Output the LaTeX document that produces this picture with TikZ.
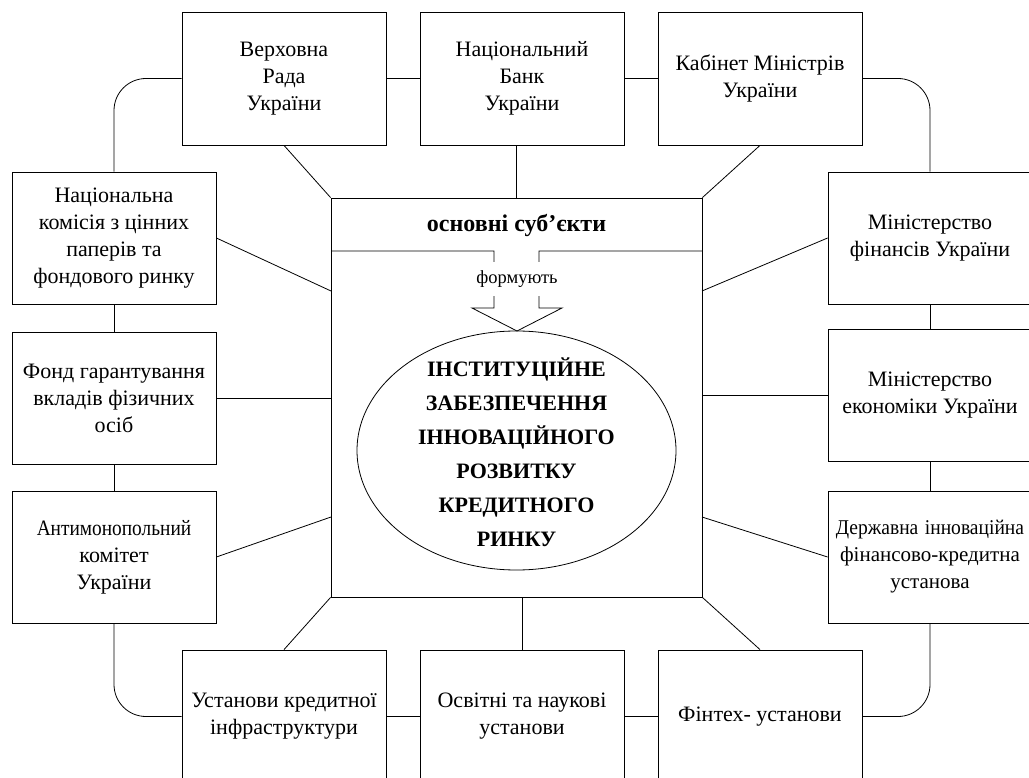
\documentclass[tikz,border=0pt]{standalone}
\usepackage{fontspec}
\usepackage{graphicx}
\setmainfont{Liberation Serif}
\usetikzlibrary{shapes.geometric}
\begin{document}
\begin{tikzpicture}[x=1pt,y=-1pt,line width=0.8pt,
  box/.style={draw,minimum width=204pt,minimum height=133pt,align=center,inner sep=0pt,font=\fontsize{22}{27}\selectfont},
  conn/.style={draw,line width=0.8pt},
  round/.style={conn,rounded corners=32pt},
  bigtext/.style={align=center,font=\fontsize{22}{34}\bfseries\selectfont}]
\useasboundingbox (0,0) rectangle (1029,778);
% top row
\node[box] (vr) at (284,78.5) {Верховна\\Рада\\України};
\node[box] (nb) at (522,78.5) {Національний\\Банк\\України};
\node[box] (km) at (760,78.5) {Кабінет Міністрів\\України};
% left column
\node[box,minimum height=132pt] (nk) at (114,238) {Національна\\комісія з цінних\\паперів та\\фондового ринку};
\node[box,minimum height=132pt] (fg) at (114,398) {Фонд гарантування\\вкладів фізичних\\осіб};
\node[box,minimum height=132pt] (am) at (114,557) {\scalebox{0.88}[1]{Антимонопольний}\\комітет\\України};
% right column
\node[box,minimum height=132pt] (mf) at (930,238) {Міністерство\\фінансів України};
\node[box,minimum height=132pt] (me) at (930,395) {Міністерство\\економіки України};
\node[box,minimum height=132pt,text width=204pt,font=\fontsize{21}{27}\selectfont] (dz) at (930,557) {\scalebox{0.93}[1]{Державна інноваційна}\\фінансово-кредитна\\установа};
% bottom row
\node[box] (uk) at (284,716.5) {Установи кредитної\\інфраструктури};
\node[box] (os) at (522,716.5) {Освітні та наукові\\установи};
\node[box] (ft) at (760,716.5) {Фінтех- установи};
% central box
\node[draw,minimum width=371pt,minimum height=399pt,inner sep=0pt] (cb) at (516.5,397.5) {};
\node[font=\fontsize{24}{28}\bfseries\selectfont] (hd) at (516.5,226) {основні суб’єкти};
\coordinate (sepL) at (331,251);
\coordinate (sepR) at (702,251);
\coordinate (a1) at (494,251);
\coordinate (a2) at (494,308);
\coordinate (a3) at (472,308);
\coordinate (tip) at (517,331);
\coordinate (a5) at (562,308);
\coordinate (a6) at (539,308);
\coordinate (a7) at (539,251);
\draw (sepL) -- (a1) -- (a2) -- (a3) -- (tip) -- (a5) -- (a6) -- (a7) -- (sepR);
\node[fill=white,inner sep=0pt,minimum height=34pt,font=\fontsize{18.5}{22}\selectfont] (fm) at (517,279) {формують};
% ellipse
\node[draw,ellipse,minimum width=319pt,minimum height=239pt,inner sep=0pt] (el) at (516.5,450.5) {};
\node[bigtext] (et) at (516.5,452) {ІНСТИТУЦІЙНЕ\\ЗАБЕЗПЕЧЕННЯ\\ІННОВАЦІЙНОГО\\РОЗВИТКУ\\КРЕДИТНОГО\\РИНКУ};
% ring connectors
\draw[conn] (vr.east) -- (nb.west);
\draw[conn] (nb.east) -- (km.west);
\draw[round] (vr.west) -| (nk.north);
\draw[round] (km.east) -| (mf.north);
\draw[conn] (nk.south) -- (fg.north);
\draw[conn] (fg.south) -- (am.north);
\draw[round] (am.south) |- (uk.west);
\draw[conn] (mf.south) -- (me.north);
\draw[conn] (me.south) -- (dz.north);
\draw[round] (dz.south) |- (ft.east);
\draw[conn] (uk.east) -- (os.west);
\draw[conn] (os.east) -- (ft.west);
% spokes to central box
\coordinate (cNK) at (331,291);
\coordinate (cAM) at (331,517);
\coordinate (cMF) at (702,291);
\coordinate (cDZ) at (702,517);
\draw[conn] (vr.south) -- (cb.north west);
\draw[conn] (km.south) -- (cb.north east);
\draw[conn] (cb.north) -- (cb.north |- nb.south);
\draw[conn] (cb.south west) -- (uk.north);
\draw[conn] (cb.south east) -- (ft.north);
\draw[conn] (os.north) -- (os.north |- cb.south);
\draw[conn] (nk.east) -- (cNK);
\draw[conn] (fg.east) -- (cb.west |- fg.east);
\draw[conn] (am.east) -- (cAM);
\draw[conn] (mf.west) -- (cMF);
\draw[conn] (me.west) -- (cb.east |- me.west);
\draw[conn] (dz.west) -- (cDZ);
\end{tikzpicture}
\end{document}
